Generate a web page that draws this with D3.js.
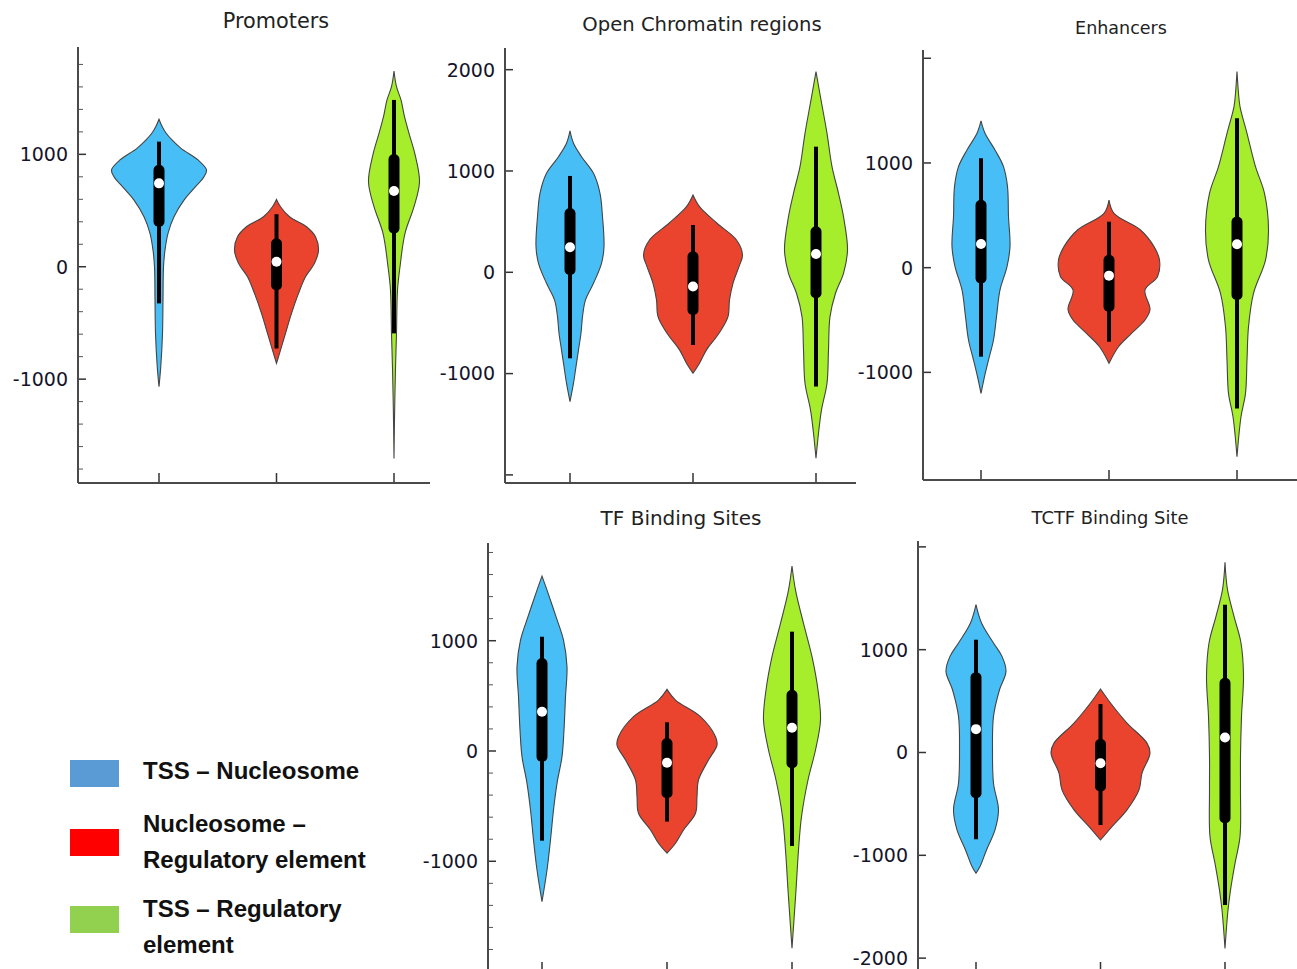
<!DOCTYPE html>
<html>
<head>
<meta charset="UTF-8">
<title>Distance distributions</title>
<script type="text/javascript" src="https://d3js.org/d3.v7.min.js"></script>
<style>
body { margin: 0; background: #fff; }
svg { display: block; }
</style>
</head>
<body>
<div id="plot"></div>

<script type="text/javascript">

// the three comparisons and their colours
var groups = ["TSS – Nucleosome", "Nucleosome – Regulatory element", "TSS – Regulatory element"]
var violinColors = ["#47bff6", "#ea442e", "#a6ee2c"]
var legendColors = ["#5b9bd5", "#ff0000", "#92d050"]
var legendLines  = [["TSS – Nucleosome"], ["Nucleosome –", "Regulatory element"], ["TSS – Regulatory", "element"]]

var panelTitles = ["Promoters", "Open Chromatin regions", "Enhancers", "TF Binding Sites", "TCTF Binding Site"]

// violin outlines: [value, relative half width]
var promotersProfiles = [
	[[1312,0],[1250,0.06],[1190,0.14],[1128,0.26],[1053,0.44],[950,0.78],[861,0.95],[801,0.9],[697,0.7],[593,0.5],[445,0.3],[297,0.18],[148,0.12],[0,0.09],[-297,0.08],[-593,0.07],[-890,0.035],[-1068,0]],
	[[599,0],[534,0.08],[445,0.26],[356,0.6],[267,0.78],[148,0.84],[30,0.76],[-89,0.58],[-237,0.44],[-415,0.3],[-593,0.18],[-742,0.08],[-860,0]],
	[[1742,0],[1602,0.05],[1484,0.14],[1335,0.21],[1187,0.3],[1000,0.42],[757,0.51],[534,0.4],[297,0.22],[0,0.12],[-208,0.07],[-593,0.05],[-900,0.03],[-1300,0.012],[-1706,0]]
]
var openProfiles = [
	[[1395,0],[1273,0.07],[1141,0.23],[977,0.47],[780,0.6],[549,0.65],[253,0.68],[89,0.63],[-109,0.47],[-273,0.31],[-438,0.25],[-602,0.22],[-766,0.17],[-931,0.12],[-1095,0.07],[-1276,0]],
	[[763,0],[648,0.13],[484,0.48],[319,0.87],[171,0.99],[56,0.92],[-109,0.8],[-273,0.73],[-438,0.7],[-602,0.52],[-766,0.27],[-898,0.13],[-997,0]],
	[[1980,0],[1701,0.1],[1372,0.22],[1043,0.32],[780,0.45],[549,0.55],[220,0.63],[-10,0.55],[-207,0.39],[-438,0.28],[-766,0.25],[-1095,0.22],[-1359,0.11],[-1589,0.05],[-1836,0]]
]
var enhancerProfiles = [
	[[1401,0],[1283,0.08],[1124,0.28],[965,0.45],[774,0.53],[487,0.55],[201,0.58],[10,0.52],[-213,0.38],[-468,0.31],[-691,0.25],[-882,0.15],[-1041,0.07],[-1201,0]],
	[[646,0],[519,0.1],[360,0.63],[201,0.9],[73,1.01],[-86,0.97],[-213,0.72],[-400,0.82],[-500,0.72],[-627,0.45],[-755,0.19],[-914,0]],
	[[1873,0],[1666,0.03],[1538,0.06],[1283,0.2],[965,0.37],[710,0.55],[360,0.63],[73,0.57],[-245,0.33],[-564,0.23],[-882,0.2],[-1201,0.17],[-1424,0.08],[-1806,0]]
]
var tfProfiles = [
	[[1586,0],[1459,0.1],[1218,0.28],[1006,0.43],[764,0.5],[492,0.47],[190,0.44],[-51,0.4],[-293,0.3],[-535,0.23],[-807,0.17],[-1079,0.1],[-1366,0]],
	[[559,0],[462,0.17],[311,0.67],[130,0.97],[54,1.0],[-82,0.83],[-263,0.63],[-414,0.6],[-565,0.57],[-716,0.33],[-837,0.17],[-927,0]],
	[[1677,0],[1459,0.07],[1157,0.23],[855,0.4],[553,0.52],[281,0.57],[9,0.47],[-263,0.32],[-595,0.19],[-897,0.13],[-1260,0.08],[-1789,0]]
]
var tctfProfiles = [
	[[1438,0],[1260,0.11],[1065,0.35],[935,0.52],[789,0.6],[610,0.47],[351,0.35],[26,0.33],[-299,0.35],[-558,0.45],[-753,0.38],[-948,0.21],[-1110,0.08],[-1175,0]],
	[[617,0],[481,0.2],[286,0.53],[91,0.93],[-6,0.99],[-201,0.83],[-364,0.77],[-558,0.53],[-721,0.23],[-851,0]],
	[[1851,0],[1584,0.05],[1325,0.18],[1065,0.32],[740,0.37],[351,0.33],[-39,0.31],[-364,0.31],[-818,0.3],[-1078,0.2],[-1338,0.11],[-1532,0.06],[-1906,0]]
]

// box stats: [whisker low, q1, median, q3, whisker high]
var promotersStats = [[-326,356,742,905,1113], [-727,-208,45,252,466], [-593,297,674,1000,1484]]
var openStats      = [[-849,-26,247,632,951], [-717,-421,-141,204,467], [-1128,-257,181,451,1240]]
var enhancerStats  = [[-850,-150,226,646,1045], [-707,-420,-76,121,439], [-1344,-309,223,487,1427]]
var tfStats        = [[-813,-97,356,840,1036], [-640,-429,-106,115,260], [-861,-157,211,553,1082]]
var tctfStats      = [[-844,-445,227,779,1097], [-705,-380,-104,130,471], [-1484,-688,146,724,1438]]

// y axis ticks per panel
var promotersTicks = [-1000, 0, 1000]
var openTicks      = [-2000, -1000, 0, 1000, 2000]
var enhancerTicks  = [-1000, 0, 1000, 2000]
var tfTicks        = [-1000, 0, 1000]
var tctfTicks      = [-2000, -1000, 0, 1000, 2000]
var minorTicks     = [-1800,-1600,-1400,-1200,-800,-600,-400,-200,200,400,600,800,1200,1400,1600,1800]

// layout of the five panels
var panels = [
	{ title: panelTitles[0], profiles: promotersProfiles, stats: promotersStats, ticks: promotersTicks, labels: [-1000,0,1000], minor: true,
	  left: 78, right: 430, top: 47, bottom: 483, domain: [-1924, 1955], xs: [159, 394], titleX: 276, titleY: 28, titleSize: 20.8 },
	{ title: panelTitles[1], profiles: openProfiles, stats: openStats, ticks: openTicks, labels: [-1000,0,1000,2000], minor: false,
	  left: 505, right: 856, top: 48, bottom: 483, domain: [-2080, 2214], xs: [570, 816], titleX: 702, titleY: 31, titleSize: 19.6 },
	{ title: panelTitles[2], profiles: enhancerProfiles, stats: enhancerStats, ticks: enhancerTicks, labels: [-1000,0,1000], minor: false,
	  left: 923, right: 1297, top: 50, bottom: 480, domain: [-2028, 2079], xs: [981, 1237], titleX: 1121, titleY: 34, titleSize: 17.5 },
	{ title: panelTitles[3], profiles: tfProfiles, stats: tfStats, ticks: tfTicks, labels: [-1000,0,1000], minor: true,
	  left: 488, right: 860, top: 543, bottom: 972, domain: [-2004, 1886], xs: [542, 792], titleX: 681, titleY: 525, titleSize: 20 },
	{ title: panelTitles[4], profiles: tctfProfiles, stats: tctfStats, ticks: tctfTicks, labels: [-2000,-1000,0,1000], minor: false,
	  left: 918, right: 1297, top: 541, bottom: 972, domain: [-2135, 2057], xs: [976, 1225], titleX: 1110, titleY: 524, titleSize: 17.9 }
]

var width  = 1297
var height = 969
var halfWidth = d3.scaleLinear().domain([0, 1]).range([0, 50])

var svg = d3.select("#plot")
	.append("svg")
	.attr("width", width)
	.attr("height", height)
	.style("font-family", "'DejaVu Sans', Verdana, sans-serif")

function drawPanel (p) {
	var g = svg.append("g").attr("class", "panel")
	var y = d3.scaleLinear().domain(p.domain).range([p.bottom, p.top])
	var x = d3.scalePoint().domain(groups).range(p.xs)

	g.append("text")
		.attr("x", p.titleX)
		.attr("y", p.titleY)
		.attr("text-anchor", "middle")
		.attr("font-size", p.titleSize)
		.attr("fill", "#222")
		.text(p.title)

	// violins
	p.profiles.forEach(function (prof, i) {
		var cx = x(groups[i])
		var area = d3.area()
			.y(function (d) { return y(d[0]) })
			.x0(function (d) { return cx - halfWidth(d[1]) })
			.x1(function (d) { return cx + halfWidth(d[1]) })
			.curve(d3.curveCatmullRom)
		g.append("path")
			.datum(prof)
			.attr("d", area)
			.attr("fill", violinColors[i])
			.attr("stroke", "#444")
			.attr("stroke-width", 1.1)
	})

	// inner box: whisker line, thick box, white median
	p.stats.forEach(function (s, i) {
		var cx = x(groups[i])
		g.append("line")
			.attr("x1", cx).attr("x2", cx)
			.attr("y1", y(s[0])).attr("y2", y(s[4]))
			.attr("stroke", "#000")
			.attr("stroke-width", 4)
		g.append("rect")
			.attr("x", cx - 5.5)
			.attr("width", 11)
			.attr("y", y(s[3]))
			.attr("height", y(s[1]) - y(s[3]))
			.attr("rx", 5)
			.attr("fill", "#000")
		g.append("circle")
			.attr("cx", cx)
			.attr("cy", y(s[2]))
			.attr("r", 5)
			.attr("fill", "#fff")
	})

	// minor ticks
	if (p.minor) {
		g.selectAll(".minor")
			.data(minorTicks.filter(function (v) { return v > p.domain[0] && v < p.domain[1] }))
			.enter().append("line")
			.attr("x1", p.left).attr("x2", p.left + 5)
			.attr("y1", function (d) { return y(d) })
			.attr("y2", function (d) { return y(d) })
			.attr("stroke", "#555")
			.attr("stroke-width", 1)
	}

	// major ticks and labels
	g.selectAll(".major")
		.data(p.ticks)
		.enter().append("line")
		.attr("x1", p.left).attr("x2", p.left + 8)
		.attr("y1", function (d) { return y(d) })
		.attr("y2", function (d) { return y(d) })
		.attr("stroke", "#333")
		.attr("stroke-width", 1.5)

	g.selectAll(".ticklabel")
		.data(p.labels)
		.enter().append("text")
		.attr("x", p.left - 10)
		.attr("y", function (d) { return y(d) })
		.attr("dy", "0.36em")
		.attr("text-anchor", "end")
		.attr("font-size", 19)
		.attr("fill", "#14142a")
		.text(function (d) { return d })

	// category ticks on the bottom axis, pointing inward
	g.selectAll(".xtick")
		.data(groups)
		.enter().append("line")
		.attr("x1", function (d) { return x(d) })
		.attr("x2", function (d) { return x(d) })
		.attr("y1", p.bottom)
		.attr("y2", p.bottom - 10)
		.attr("stroke", "#333")
		.attr("stroke-width", 1.5)

	// axis lines
	g.append("line")
		.attr("x1", p.left).attr("x2", p.left)
		.attr("y1", p.top).attr("y2", p.bottom)
		.attr("stroke", "#4a4a4a")
		.attr("stroke-width", 2)
	g.append("line")
		.attr("x1", p.left).attr("x2", p.right)
		.attr("y1", p.bottom).attr("y2", p.bottom)
		.attr("stroke", "#4a4a4a")
		.attr("stroke-width", 2)
}

panels.forEach(drawPanel)

// legend in the empty lower-left corner
var legendY = [760, 829, 906]
var legendShift = [0, -16, -8]
var legend = svg.append("g").attr("class", "legend")
groups.forEach(function (name, i) {
	legend.append("rect")
		.attr("x", 70)
		.attr("y", legendY[i])
		.attr("width", 49)
		.attr("height", 27)
		.attr("fill", legendColors[i])
	legend.append("text")
		.attr("x", 143)
		.attr("y", legendY[i] + 19)
		.attr("font-family", "'Liberation Sans', Arial, sans-serif")
		.attr("font-weight", "bold")
		.attr("font-size", 24)
		.attr("fill", "#111")
		.selectAll("tspan")
		.data(legendLines[i])
		.enter().append("tspan")
		.attr("x", 143)
		.attr("dy", function (d, j) { return j === 0 ? legendShift[i] : 36 })
		.text(function (d) { return d })
})

</script>
</body>
</html>
